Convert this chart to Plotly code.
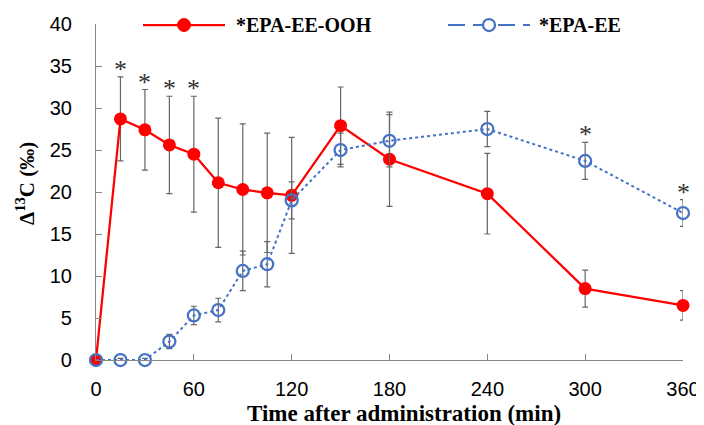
import plotly.graph_objects as go

# ---- data ----
time_min = [0, 15, 30, 45, 60, 75, 90, 105, 120, 150, 180, 240, 300, 360]
ooh_vals = [0, 28.7, 27.4, 25.6, 24.5, 21.1, 20.3, 19.9, 19.6, 27.9, 23.9, 19.8, 8.5, 6.5]
ooh_err = [0, 5.0, 4.8, 5.8, 6.9, 7.7, 7.8, 7.1, 6.9, 4.6, 5.6, 4.8, 2.2, 1.75]
ee_vals = [0, 0, 0, 2.2, 5.3, 5.95, 10.6, 11.4, 19.0, 25.0, 26.1, 27.5, 23.7, 17.5]
ee_err = [0, 0.2, 0.2, 0.85, 1.1, 1.4, 2.35, 2.7, 2.2, 2.0, 3.1, 2.1, 2.2, 1.6]
ooh_sig = [15, 30, 45, 60]
ee_sig = [300, 360]
x_ticks = [0, 60, 120, 180, 240, 300, 360]
y_ticks = [0, 5, 10, 15, 20, 25, 30, 35, 40]
name_ooh = "*EPA-EE-OOH"
name_ee = "*EPA-EE"

RED = "#FF0000"
BLUE = "#4472C4"
ERR = "#666666"
AX = "#868686"
SERIF = "Liberation Serif, Times New Roman, serif"
SANS = "Liberation Sans, Arial, sans-serif"

# The page body adds an 8px offset, so the figure is drawn 8px smaller
OFF = 8
W, H = 704 - OFF, 425 - OFF
# plot area in screen pixels: x 96..683, y 24..360
SL, ST, SR, SB = 96, 24, 683, 360
L, T = SL - OFF, ST - OFF
R = W - (SR - OFF)
B = H - (SB - OFF)
PW = SR - SL
PH = SB - ST

def px_x(p):
    return (p - SL) / PW

def px_y(p):
    return (SB - p) / PH

fig = go.Figure()
fig.add_trace(go.Scatter(
    x=time_min, y=ooh_vals, mode="lines+markers", name=name_ooh,
    line=dict(color=RED, width=2.25),
    marker=dict(color=RED, size=13, symbol="circle"),
    error_y=dict(type="data", array=ooh_err, visible=True, color=ERR, thickness=1.2, width=3),
    cliponaxis=False, showlegend=False,
))
fig.add_trace(go.Scatter(
    x=time_min, y=ee_vals, mode="lines+markers", name=name_ee,
    line=dict(color=BLUE, width=2, dash="dot"),
    marker=dict(color="rgba(0,0,0,0)", size=12, symbol="circle",
                line=dict(color=BLUE, width=2.25)),
    error_y=dict(type="data", array=ee_err, visible=True, color=ERR, thickness=1.2, width=3),
    cliponaxis=False, showlegend=False,
))

annotations = []
# significance asterisks above error bars
for xs, vals, errs in ((ooh_sig, ooh_vals, ooh_err), (ee_sig, ee_vals, ee_err)):
    for t in xs:
        i = time_min.index(t)
        annotations.append(dict(
            x=t, y=vals[i] + errs[i], xref="x", yref="y", text="*",
            showarrow=False, yanchor="bottom", yshift=-9,
            font=dict(family=SERIF, size=26, color="#333333"),
        ))

# axis titles
annotations.append(dict(
    x=px_x(404), y=px_y(413), xref="paper", yref="paper",
    text="<b>Time after administration (min)</b>", showarrow=False,
    xanchor="center", yanchor="middle",
    font=dict(family=SERIF, size=23, color="black"),
))
annotations.append(dict(
    x=px_x(25), y=px_y(184), xref="paper", yref="paper",
    text="<b>Δ<sup>13</sup>C (‰)</b>", showarrow=False, textangle=-90,
    xanchor="center", yanchor="middle",
    font=dict(family=SERIF, size=21, color="black"),
))

# manual legend
shapes = []
leg_y = px_y(25)
shapes.append(dict(type="line", xref="paper", yref="paper",
                   x0=px_x(143), x1=px_x(225), y0=leg_y, y1=leg_y,
                   line=dict(color=RED, width=2.25)))
shapes.append(dict(type="circle", xref="paper", yref="paper",
                   xsizemode="pixel", ysizemode="pixel",
                   xanchor=px_x(184), yanchor=leg_y,
                   x0=-6.5, x1=6.5, y0=-6.5, y1=6.5,
                   fillcolor=RED, line=dict(color=RED, width=1)))
shapes.append(dict(type="line", xref="paper", yref="paper",
                   x0=px_x(448), x1=px_x(530), y0=leg_y, y1=leg_y,
                   line=dict(color=BLUE, width=2, dash="17px,8px")))
shapes.append(dict(type="circle", xref="paper", yref="paper",
                   xsizemode="pixel", ysizemode="pixel",
                   xanchor=px_x(489), yanchor=leg_y,
                   x0=-6, x1=6, y0=-6, y1=6,
                   fillcolor="white", line=dict(color=BLUE, width=2.25)))
annotations.append(dict(
    x=px_x(234), y=leg_y, xref="paper", yref="paper", text="<b>" + name_ooh + "</b>",
    showarrow=False, xanchor="left", yanchor="middle",
    font=dict(family=SERIF, size=20, color="black"),
))
annotations.append(dict(
    x=px_x(537), y=leg_y, xref="paper", yref="paper", text="<b>" + name_ee + "</b>",
    showarrow=False, xanchor="left", yanchor="middle",
    font=dict(family=SERIF, size=20, color="black"),
))

fig.update_layout(
    width=W, height=H,
    margin=dict(l=L, r=R, t=T, b=B, pad=0, autoexpand=False),
    paper_bgcolor="white", plot_bgcolor="white",
    showlegend=False,
    annotations=annotations, shapes=shapes,
    xaxis=dict(
        range=[0, 360], tickvals=x_ticks, ticktext=[str(v) for v in x_ticks],
        showgrid=False, zeroline=False, showline=True, linecolor=AX, linewidth=1.25,
        ticks="inside", ticklen=6, tickcolor=AX, tickwidth=1.25,
        tickfont=dict(family=SANS, size=20, color="black"), ticklabelstandoff=11,
    ),
    yaxis=dict(
        range=[0, 40], tickvals=y_ticks, ticktext=[str(v) for v in y_ticks],
        showgrid=False, zeroline=False, showline=True, linecolor=AX, linewidth=1.25,
        ticks="inside", ticklen=6, tickcolor=AX, tickwidth=1.25,
        tickfont=dict(family=SANS, size=20, color="black"), ticklabelstandoff=19,
    ),
)

fig.write_html("out.html")
